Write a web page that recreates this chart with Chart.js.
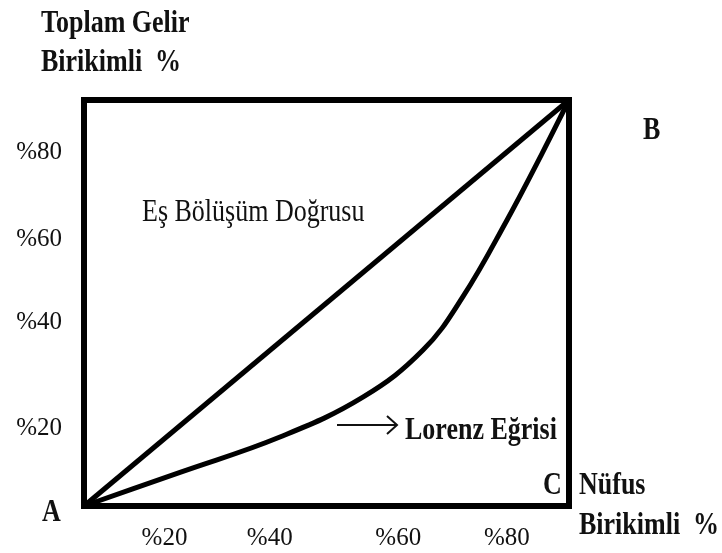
<!DOCTYPE html>
<html>
<head>
<meta charset="utf-8">
<script src="https://cdn.jsdelivr.net/npm/chart.js@4/dist/chart.umd.min.js"></script>
<style>
  html, body { margin: 0; padding: 0; background: #fff; }
  #wrap { width: 722px; height: 553px; }
</style>
</head>
<body>
<div id="wrap"><canvas id="lorenz" width="722" height="553"></canvas></div>
<script>
// ---- data ----
const xTickValues = [16.6, 38.3, 64.8, 87.2];
const xTickLabels = ['%20', '%40', '%60', '%80'];
const yTickValues = [19.0, 45.2, 65.7, 87.2];
const yTickLabels = ['%20', '%40', '%60', '%80'];

const equalityX = [0, 100];
const equalityY = [0, 100];

const lorenzX = [0, 19.8, 40.4, 57.5, 69.9, 78.1, 87.2, 94.3, 100];
const lorenzY = [0, 8.3, 17.0, 26.8, 38.4, 51.5, 70.4, 86.5, 100];

const toPoints = (xs, ys) => xs.map((x, i) => ({ x, y: ys[i] }));

const FONT = '"Liberation Serif", "Times New Roman", serif';

// text with the slight vertical stretch seen in the scan
function drawText(ctx, text, x, y, bold) {
  ctx.save();
  ctx.translate(x, y);
  ctx.scale(1, 1.18);
  ctx.font = (bold ? 'bold ' : '') + '26px ' + FONT;
  ctx.fillStyle = '#111';
  ctx.textBaseline = 'alphabetic';
  ctx.fillText(text, 0, 0);
  ctx.restore();
}

// box around the plot + annotations
const decorPlugin = {
  id: 'decor',
  afterDraw(chart) {
    const { ctx, chartArea: a } = chart;
    ctx.save();
    ctx.strokeStyle = '#000';
    ctx.lineWidth = 6;
    ctx.lineJoin = 'miter';
    ctx.strokeRect(a.left, a.top, a.right - a.left, a.bottom - a.top);

    // arrow pointing to the label
    ctx.lineWidth = 2;
    ctx.strokeStyle = '#111';
    ctx.beginPath();
    ctx.moveTo(337, 425);
    ctx.lineTo(397, 425);
    ctx.moveTo(387, 416);
    ctx.lineTo(397, 425);
    ctx.lineTo(387, 434);
    ctx.stroke();
    ctx.restore();

    drawText(ctx, 'Toplam Gelir', 41, 32, true);
    drawText(ctx, 'Birikimli  %', 41, 71, true);
    drawText(ctx, 'Eş Bölüşüm Doğrusu', 142, 221, false);
    drawText(ctx, 'Lorenz Eğrisi', 405, 439, true);
    drawText(ctx, 'B', 643, 139, true);
    drawText(ctx, 'C', 543, 494, true);
    drawText(ctx, 'Nüfus', 579, 494, true);
    drawText(ctx, 'Birikimli  %', 579, 534, true);
    drawText(ctx, 'A', 42, 521, true);
  }
};

new Chart(document.getElementById('lorenz'), {
  type: 'scatter',
  data: {
    datasets: [
      {
        label: 'Eş Bölüşüm Doğrusu',
        data: toPoints(equalityX, equalityY),
        showLine: true,
        borderColor: '#000',
        borderWidth: 5,
        pointRadius: 0,
        clip: 6
      },
      {
        label: 'Lorenz Eğrisi',
        data: toPoints(lorenzX, lorenzY),
        showLine: true,
        borderColor: '#000',
        borderWidth: 5,
        pointRadius: 0,
        tension: 0.4,
        clip: 6
      }
    ]
  },
  options: {
    responsive: false,
    animation: false,
    devicePixelRatio: 1,
    layout: { padding: { left: 0, top: 100, right: 153, bottom: 0 } },
    plugins: { legend: { display: false }, tooltip: { enabled: false } },
    scales: {
      x: {
        type: 'linear',
        min: 0, max: 100,
        grid: { display: false, drawTicks: false },
        border: { display: false },
        afterBuildTicks: s => { s.ticks = xTickValues.map(v => ({ value: v })); },
        afterFit: s => { s.height = 47; },
        ticks: {
          autoSkip: false, maxRotation: 0, padding: 17,
          color: '#111',
          font: { family: FONT, size: 25 },
          callback: (v, i) => xTickLabels[i]
        }
      },
      y: {
        type: 'linear',
        min: 0, max: 100,
        grid: { display: false, drawTicks: false },
        border: { display: false },
        afterBuildTicks: s => { s.ticks = yTickValues.map(v => ({ value: v })); },
        afterFit: s => { s.width = 84; },
        ticks: {
          autoSkip: false, padding: 22,
          color: '#111',
          font: { family: FONT, size: 25 },
          callback: (v, i) => yTickLabels[i]
        }
      }
    }
  },
  plugins: [decorPlugin]
});
</script>
</body>
</html>
